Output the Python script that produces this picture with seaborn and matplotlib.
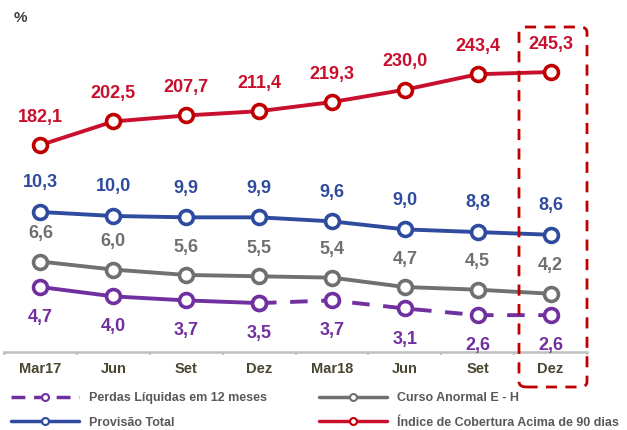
import numpy as np
import pandas as pd
import matplotlib
matplotlib.use("Agg")
import matplotlib.pyplot as plt
import seaborn as sns
from matplotlib.lines import Line2D
from matplotlib.patches import FancyBboxPatch

# dados
periodos = ["Mar17", "Jun", "Set", "Dez", "Mar18", "Jun", "Set", "Dez"]
cobertura = [182.1, 202.5, 207.7, 211.4, 219.3, 230.0, 243.4, 245.3]
provisao = [10.3, 10.0, 9.9, 9.9, 9.6, 9.0, 8.8, 8.6]
curso_anormal = [6.6, 6.0, 5.6, 5.5, 5.4, 4.7, 4.5, 4.2]
perdas = [4.7, 4.0, 3.7, 3.5, 3.7, 3.1, 2.6, 2.6]

c_red = "#c8102e"
c_blue = "#2f4b9f"
c_gray = "#707070"
c_purple = "#7030a0"

sns.set_style("white")
plt.rcParams["font.family"] = ["Liberation Sans", "DejaVu Sans"]

x = np.arange(len(periodos))
df = pd.DataFrame({"x": x, "cob": cobertura, "prov": provisao,
                   "curso": curso_anormal, "perdas": perdas})

fig = plt.figure(figsize=(6.27, 4.30), dpi=100)
ax = fig.add_axes([4 / 627, 1 - 352 / 430, 583 / 627, 322 / 430])
ax2 = ax.twinx()

mk = dict(marker="o", markersize=10, markerfacecolor="white",
          markeredgewidth=2.6, linewidth=2.8)

sns.lineplot(data=df, x="x", y="prov", ax=ax, color=c_blue,
             markeredgecolor=c_blue, **mk)
sns.lineplot(data=df, x="x", y="curso", ax=ax, color=c_gray,
             markeredgecolor=c_gray, **mk)
sns.lineplot(data=df.iloc[:4], x="x", y="perdas", ax=ax, color=c_purple,
             markeredgecolor=c_purple, **mk)
sns.lineplot(data=df.iloc[3:], x="x", y="perdas", ax=ax, color=c_purple,
             markeredgecolor=c_purple, linestyle=(0, (4.5, 3.5)), **mk)
sns.lineplot(data=df, x="x", y="cob", ax=ax2, color=c_red,
             markeredgecolor="#c00000", **mk)

ax.set_ylim(-0.15, 23.88)
ax2.set_ylim(2.9, 281.7)
ax.set_xlim(-0.5, 7.5)

fmt = lambda v: f"{v:.1f}".replace(".", ",")
lab = dict(ha="center", va="center", fontsize=13, fontweight="bold",
           textcoords="offset points")
for i in x:
    ax2.annotate(fmt(cobertura[i]), (i, cobertura[i]), xytext=(0, 20), color=c_red, **lab)
    ax.annotate(fmt(provisao[i]), (i, provisao[i]), xytext=(0, 21), color=c_blue, **lab)
    ax.annotate(fmt(curso_anormal[i]), (i, curso_anormal[i]), xytext=(0, 20), color=c_gray, **lab)
    ax.annotate(fmt(perdas[i]), (i, perdas[i]), xytext=(0, -22), color=c_purple, **lab)

for a in (ax, ax2):
    a.set_xlabel("")
    a.set_ylabel("")
    a.set_yticks([])
    for s in ["top", "right", "left"]:
        a.spines[s].set_visible(False)
ax2.spines["bottom"].set_visible(False)
ax.spines["bottom"].set_color("#bfbfbf")
ax.spines["bottom"].set_linewidth(1.8)

ax.set_xticks(x)
ax.set_xticklabels(periodos, fontsize=10.5, fontweight="bold", color="#4a4630")
ax.tick_params(axis="x", which="major", length=0, pad=7)
ax.set_xticks(np.arange(-0.5, 8, 1), minor=True)
ax.tick_params(axis="x", which="minor", bottom=True, length=2.5, width=1.3,
               color="#bfbfbf", direction="out")

fig.text(20 / 627, 1 - 18 / 430, "%", fontsize=11, fontweight="bold",
         color="#404040", ha="center", va="center")

box = FancyBboxPatch((519 / 627, 1 - 387 / 430), 68 / 627, 360 / 430,
                     boxstyle="round,pad=0,rounding_size=0.012",
                     transform=fig.transFigure, fill=False, edgecolor="#c00000",
                     linewidth=2, linestyle=(0, (4, 3)), clip_on=False)
fig.patches.append(box)

lh = dict(marker="o", markersize=5, markerfacecolor="white", markeredgewidth=1.5, linewidth=2.5)
handles = [
    Line2D([], [], color=c_purple, markeredgecolor=c_purple, linestyle=(0, (4, 2.5)), **lh),
    Line2D([], [], color=c_blue, markeredgecolor=c_blue, **lh),
    Line2D([], [], color=c_gray, markeredgecolor=c_gray, **lh),
    Line2D([], [], color=c_red, markeredgecolor="#c00000", **lh),
]
labels = ["Perdas Líquidas em 12 meses", "Provisão Total",
          "Curso Anormal E - H", "Índice de Cobertura Acima de 90 dias"]
leg = fig.legend(handles, labels, ncol=2, loc="upper left",
                 bbox_to_anchor=(0 / 627, 1 - 381 / 430), frameon=False,
                 handlelength=5.4, handletextpad=0.8, columnspacing=4.2,
                 labelspacing=1.0, prop={"size": 9, "weight": "bold"})
for t in leg.get_texts():
    t.set_color("#595959")

fig.savefig("out.png", dpi=100)
